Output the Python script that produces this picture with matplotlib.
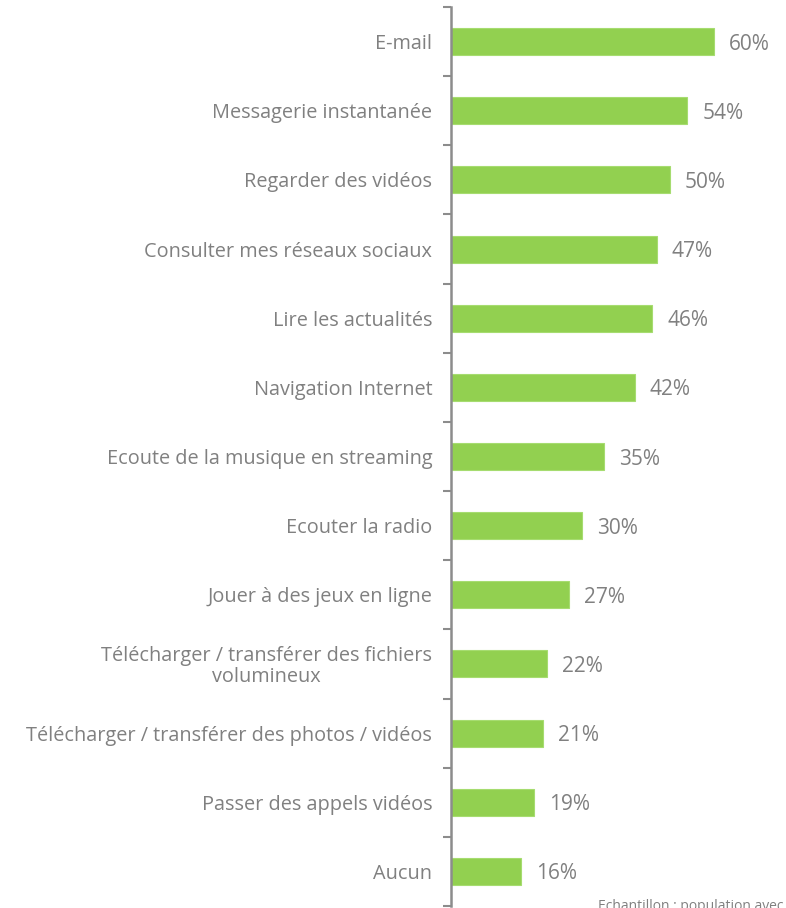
import matplotlib
matplotlib.use("Agg")
import matplotlib.pyplot as plt
import numpy as np

plt.rcParams['font.family'] = ['Open Sans', 'DejaVu Sans']

# Usages declared, top to bottom
categories = [
    "E-mail",
    "Messagerie instantanée",
    "Regarder des vidéos",
    "Consulter mes réseaux sociaux",
    "Lire les actualités",
    "Navigation Internet",
    "Ecoute de la musique en streaming",
    "Ecouter la radio",
    "Jouer à des jeux en ligne",
    "Télécharger / transférer des fichiers\nvolumineux",
    "Télécharger / transférer des photos / vidéos",
    "Passer des appels vidéos",
    "Aucun",
]
values = [60, 54, 50, 47, 46, 42, 35, 30, 27, 22, 21, 19, 16]
footer = "Echantillon : population avec"

bar_color = "#92d050"
text_gray = "#808080"
axis_gray = "#8c8c8c"

W, H = 786, 908
fig = plt.figure(figsize=(W / 100, H / 100), dpi=100)

n = len(categories)
ax_top = 7
ax_bot = 906
left = 451
ax = fig.add_axes([left / W, 1 - ax_bot / H, (W - left) / W, (ax_bot - ax_top) / H])

y = np.arange(n)
ax.barh(y, values, height=0.39, color=bar_color, edgecolor="#a6dc70", linewidth=0.8)
ax.set_ylim(n - 0.5, -0.5)
ax.set_xlim(0, (W - left) / 4.375)

# value labels just past each bar
for yi, v in zip(y, values):
    ax.text(v + 3.4, yi, f"{v}%", va="center_baseline", ha="left",
            fontsize=15, color=text_gray)

ax.set_yticks(y)
ax.set_yticklabels(categories, fontsize=14.3, color=text_gray)
for lab in ax.get_yticklabels():
    lab.set_multialignment("center")
    lab.set_linespacing(1.05)
ax.tick_params(axis="y", which="major", length=0, pad=13.5)
# small ticks between categories
ax.set_yticks(np.arange(n + 1) - 0.5, minor=True)
ax.tick_params(axis="y", which="minor", length=6, width=1.5, color=axis_gray,
               direction="out")

ax.set_xticks([])
for side in ("top", "right", "bottom"):
    ax.spines[side].set_visible(False)
ax.spines["left"].set_color(axis_gray)
ax.spines["left"].set_linewidth(1.8)
ax.patch.set_alpha(0)

fig.text(598 / W, 1 - 906 / H, footer, ha="left", va="center",
         fontsize=10, color=text_gray)

fig.savefig("out.png", dpi=100)
